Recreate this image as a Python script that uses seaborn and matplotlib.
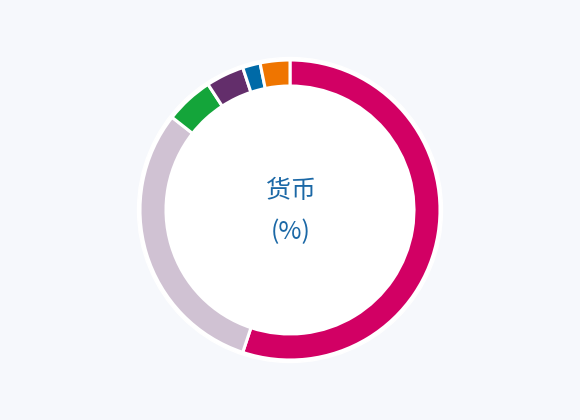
import matplotlib
matplotlib.use("Agg")
import matplotlib.pyplot as plt
import seaborn as sns

# currency shares (%), clockwise from 12 o'clock
currencies = ["美元", "欧元", "人民币", "日元", "英镑", "其他"]
shares = [55.1, 30.5, 5.2, 4.1, 1.9, 3.2]
colours = ["#d20064", "#d0c2d3", "#14a53a", "#632e6b", "#006aa7", "#ef7500"]
centre_title = "货币"
centre_unit = "(%)"

bg = "#f6f8fc"
text_blue = "#1b68a6"

sns.set_theme(style="white")
plt.rcParams['font.family'] = ['Noto Sans CJK SC', 'DejaVu Sans']

fig = plt.figure(figsize=(5.8, 4.2), dpi=100, facecolor=bg)
ax = fig.add_axes([0, 0, 1, 1])
ax.set_facecolor(bg)

palette = sns.color_palette(colours)
outer_r = 1.5
ring_w = 0.26

# white outline behind the ring
ax.add_patch(plt.Circle((0, 0), outer_r + 0.025, color="white", zorder=0))
ax.pie(shares, colors=palette, radius=outer_r, startangle=90, counterclock=False,
       wedgeprops=dict(width=ring_w, edgecolor="white", linewidth=2.2),
       labels=None)
# white hole
ax.add_patch(plt.Circle((0, 0), outer_r - ring_w - 0.01, color="white", zorder=3))

ax.text(0.01, 0.19, centre_title, ha="center", va="center", fontsize=18,
        color=text_blue, zorder=4)
ax.text(0.01, -0.22, centre_unit, ha="center", va="center", fontsize=18,
        color=text_blue, zorder=4)

ax.set_xlim(-2.9, 2.9)
ax.set_ylim(-2.1, 2.1)
ax.set_aspect("equal")
ax.axis("off")

fig.savefig("out.png", dpi=100, facecolor=bg)
